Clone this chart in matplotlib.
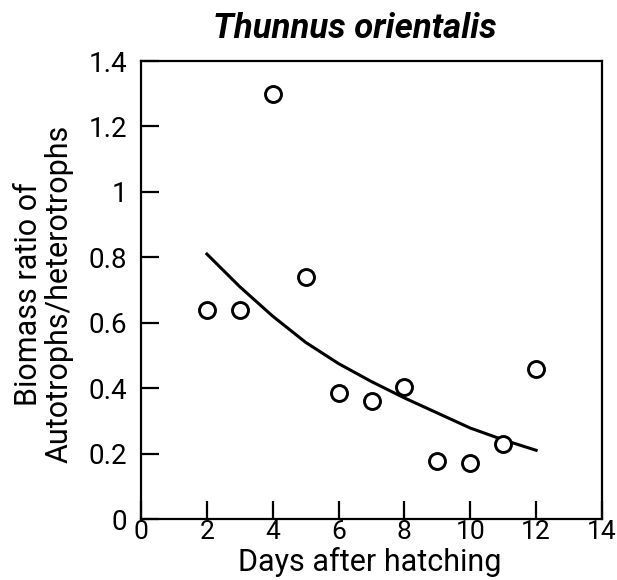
import matplotlib
matplotlib.use("Agg")
import matplotlib.pyplot as plt

days = [2, 3, 4, 5, 6, 7, 8, 9, 10, 11, 12]
ratio = [0.64, 0.64, 1.30, 0.74, 0.385, 0.36, 0.404, 0.177, 0.171, 0.229, 0.459]

fit_days = [2, 3, 4, 5, 6, 7, 8, 9, 10, 11, 12]
fit_ratio = [0.81, 0.71, 0.62, 0.54, 0.475, 0.42, 0.37, 0.324, 0.278, 0.242, 0.21]

xticks = [0, 2, 4, 6, 8, 10, 12, 14]
yticks = [0, 0.2, 0.4, 0.6, 0.8, 1.0, 1.2, 1.4]
ytick_labels = ["0", "0.2", "0.4", "0.6", "0.8", "1", "1.2", "1.4"]

plt.rcParams['font.family'] = ["Roboto", "DejaVu Sans"]

fig = plt.figure(figsize=(6.17, 5.8), dpi=100)
ax = fig.add_axes([141/617, (580-519)/580, (602-141)/617, (519-61)/580])

ax.plot(fit_days, fit_ratio, color="black", lw=2.2, zorder=2)
ax.plot(days, ratio, linestyle="none", marker="o", markersize=11.5,
        markerfacecolor="white", markeredgecolor="black", markeredgewidth=2.1, zorder=3)

ax.set_xlim(0, 14)
ax.set_ylim(0, 1.4)
ax.set_xticks(xticks)
ax.set_xticklabels([str(v) for v in xticks])
ax.set_yticks(yticks)
ax.set_yticklabels(ytick_labels)
ax.tick_params(axis="both", direction="in", length=13, width=1.6, labelsize=20,
               top=False, right=False)
ax.tick_params(axis="x", pad=1, labelsize=19)
ax.tick_params(axis="y", pad=10)
for s in ax.spines.values():
    s.set_linewidth(1.6)

fig.text(370/617, 1 - 571/580, "Days after hatching", fontsize=22,
         ha="center", va="baseline")
fig.text(44/617, 1 - 294/580, "Biomass ratio of\nAutotrophs/heterotrophs",
         fontsize=22, rotation=90, ha="center", va="center",
         multialignment="center", linespacing=1.05)

fig.text(355/617, 1 - 38/580, "Thunnus orientalis", fontsize=25, fontweight="bold",
         fontstyle="italic", ha="center", va="baseline")

fig.savefig("out.png", dpi=100)
